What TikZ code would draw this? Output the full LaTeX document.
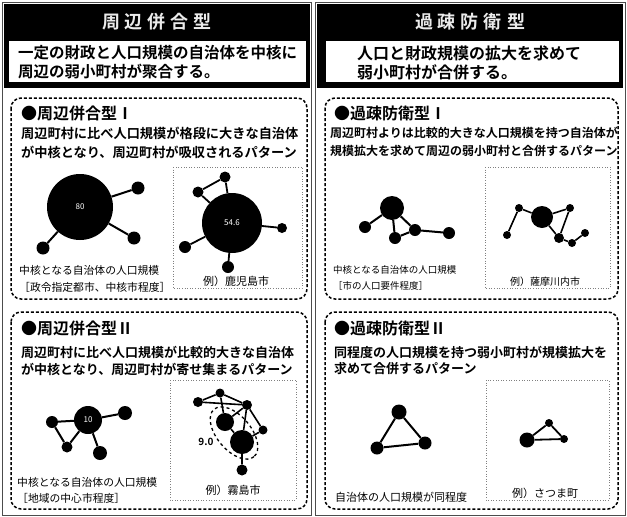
\documentclass[tikz,border=0pt]{standalone}
\usepackage{fontspec}
\newfontfamily\jp{Noto Sans CJK JP}
\newfontfamily\jpb{Noto Sans CJK JP Bold}
\begin{document}
\begin{tikzpicture}[x=1pt,y=-1pt,
  frame/.style={draw=black!70, line width=0.6pt},
  hdr/.style={text=white!92!black, font=\jpb\fontsize{18}{20}\selectfont, inner sep=0},
  sub/.style={anchor=west, inner sep=0, font=\jpb\fontsize{15.5}{17}\selectfont},
  ptitle/.style={anchor=west, inner sep=0, font=\jpb\fontsize{16}{18}\selectfont},
  desc/.style={anchor=west, inner sep=0, font=\jpb\fontsize{13}{15}\selectfont},
  captxt/.style={anchor=west, inner sep=0, font=\jp\fontsize{10.8}{12}\selectfont},
  exl/.style={inner sep=0, font=\jp\fontsize{11}{12}\selectfont},
  panel/.style={draw=black, dash pattern=on 3pt off 2pt, line width=1.5pt, rounded corners=10pt},
  exbox/.style={draw=black!50, dotted, line width=0.6pt},
  dot/.style={circle, fill=black, inner sep=0, minimum size=#1},
  link/.style={draw=black, line width=2pt},
  clab/.style={text=white, font=\jp\fontsize{8}{9}\selectfont}
]
\useasboundingbox (0,0) rectangle (627,517);
\fill[white] (0,0) rectangle (627,517);
% column frames
\draw[frame] (2,2) rectangle (311,515);
\draw[frame] (315,2) rectangle (625,515);
% headers
\fill[black] (4,4) rectangle (310,88);
\fill[white] (9,41) rectangle (306,82);
\fill[black] (317,4) rectangle (623,88);
\fill[white] (326,41) rectangle (619,82);
\node[hdr] (hL) at (157,22) {周\hspace{5pt}辺\hspace{5pt}併\hspace{5pt}合\hspace{5pt}型};
\node[hdr] (hR) at (470,22) {過\hspace{5pt}疎\hspace{5pt}防\hspace{5pt}衛\hspace{5pt}型};
\node[sub] (sL1) at (18,53) {一定の財政と人口規模の自治体を中核に};
\node[sub] (sL2) at (18,72) {周辺の弱小町村が聚合する。};
\node[sub, font=\jpb\fontsize{16}{17}\selectfont] (sR1) at (357,53) {人口と財政規模の拡大を求めて};
\node[sub, font=\jpb\fontsize{16}{17}\selectfont] (sR2) at (357,72) {弱小町村が合併する。};
% panels
\draw[panel] (11,98) rectangle (307,299);
\draw[panel] (11,312) rectangle (307,509);
\draw[panel] (325,98) rectangle (618,299);
\draw[panel] (325,312) rectangle (618,509);
% example boxes
\draw[exbox] (173,167) rectangle (302,288);
\draw[exbox] (170,380) rectangle (296,500);
\draw[exbox] (485,167) rectangle (610,288);
\draw[exbox] (486,380) rectangle (609,500);

% ---- L1
\node[ptitle] (tL1) at (21,113) {●周辺併合型Ⅰ};
\node[desc, font=\jpb\fontsize{13.2}{15}\selectfont] (dL1a) at (21,133) {周辺町村に比べ人口規模が格段に大きな自治体};
\node[desc, font=\jpb\fontsize{13.2}{15}\selectfont] (dL1b) at (21,152) {が中核となり、周辺町村が吸収されるパターン};
\node[dot=66, clab] (a0) at (80,207) {80};
\node[dot=13] (a1) at (138,188) {};
\node[dot=13] (a2) at (43,248) {};
\node[dot=13] (a3) at (134,238) {};
\draw[link] (a0)--(a1) (a0)--(a2) (a0)--(a3);
\node[captxt] (cL1a) at (19,270) {中核となる自治体の人口規模};
\node[captxt] (cL1b) at (19,287) {［政令指定都市、中核市程度］};
\node[dot=60, clab] (b0) at (232,223) {54.6};
\node[dot=11] (b1) at (225,177) {};
\node[dot=11] (b2) at (198,192) {};
\node[dot=10] (b3) at (282,228) {};
\node[dot=12] (b4) at (185,247) {};
\node[dot=12] (b5) at (228,267) {};
\draw[link, line width=1.8pt] (b1)--(b2) (b1)--(b0) (b2)--(b0) (b0)--(b3) (b0)--(b4) (b0)--(b5);
\node[exl] (xL1) at (236,281) {例）鹿児島市};

% ---- R1
\node[ptitle] (tR1) at (334,113) {●過疎防衛型Ⅰ};
\node[desc, font=\jpb\fontsize{12}{14}\selectfont] (dR1a) at (330,133) {周辺町村よりは比較的大きな人口規模を持つ自治体が};
\node[desc, font=\jpb\fontsize{12}{14}\selectfont] (dR1b) at (330,151) {規模拡大を求めて周辺の弱小町村と合併するパターン};
\node[dot=24] (c0) at (392,208) {};
\node[dot=12] (c1) at (365,227) {};
\node[dot=12] (c2) at (395,238) {};
\node[dot=12] (c3) at (415,230) {};
\node[dot=12] (c4) at (449,233) {};
\draw[link] (c0)--(c1) (c0)--(c2) (c0)--(c3) (c2)--(c3) (c3)--(c4);
\node[captxt, font=\jp\fontsize{9.5}{11}\selectfont] (cR1a) at (333,270) {中核となる自治体の人口規模};
\node[captxt, font=\jp\fontsize{9.5}{11}\selectfont] (cR1b) at (333,286) {［市の人口要件程度］};
\node[dot=22] (d0) at (542,217) {};
\node[dot=8] (d1) at (519,208) {};
\node[dot=8] (d2) at (507,235) {};
\node[dot=8] (d3) at (570,208) {};
\node[dot=10] (d4) at (559,238) {};
\node[dot=8] (d5) at (572,243) {};
\node[dot=8] (d6) at (585,233) {};
\draw[link, line width=1.6pt] (d2)--(d1) (d1)--(d0) (d0)--(d3) (d3)--(d4) (d0)--(d4) (d4)--(d5) (d5)--(d6);
\node[exl, font=\jp\fontsize{10}{11}\selectfont] (xR1) at (545,282) {例）薩摩川内市};

% ---- L2
\node[ptitle] (tL2) at (21,328) {●周辺併合型Ⅱ};
\node[desc] (dL2a) at (21,352) {周辺町村に比べ人口規模が比較的大きな自治体};
\node[desc] (dL2b) at (21,369) {が中核となり、周辺町村が寄せ集まるパターン};
\node[dot=28, clab] (e0) at (88,420) {10};
\node[dot=12] (e1) at (52,422) {};
\node[dot=11] (e2) at (67,447) {};
\node[dot=14] (e3) at (100,453) {};
\node[dot=14] (e4) at (125,413) {};
\draw[link] (e1)--(e0) (e1)--(e2) (e2)--(e0) (e0)--(e3) (e0)--(e4);
\node[captxt] (cL2a) at (17,482) {中核となる自治体の人口規模};
\node[captxt] (cL2b) at (17,498) {［地域の中心市程度］};
\node[dot=10] (f1) at (198,402) {};
\node[dot=9] (f2) at (220,393) {};
\node[dot=10] (f3) at (247,405) {};
\node[dot=18] (f4) at (225,422) {};
\node[dot=24] (f5) at (242,442) {};
\node[dot=9] (f6) at (263,430) {};
\node[dot=11] (f7) at (242,470) {};
\draw[link, line width=1.6pt] (f1)--(f2) (f2)--(f3) (f1)--(f3) (f2)--(f4) (f3)--(f4) (f3)--(f5) (f3)--(f6) (f5)--(f6) (f4)--(f5) (f5)--(f7);
\draw[dashed, line width=1.3pt, rotate around={-50:(234,433)}] (234,433) ellipse (31 and 17);
\node[inner sep=0, font=\jpb\fontsize{10}{11}\selectfont] (nine) at (206,442) {9.0};
\node[exl] (xL2) at (233,490) {例）霧島市};

% ---- R2
\node[ptitle] (tR2) at (334,328) {●過疎防衛型Ⅱ};
\node[desc] (dR2a) at (334,352) {同程度の人口規模を持つ弱小町村が規模拡大を};
\node[desc] (dR2b) at (334,369) {求めて合併するパターン};
\node[dot=15] (g1) at (399,412) {};
\node[dot=13] (g2) at (377,448) {};
\node[dot=13] (g3) at (425,443) {};
\draw[link] (g1)--(g2) (g2)--(g3) (g3)--(g1);
\node[captxt, font=\jp\fontsize{11}{12}\selectfont] (cR2) at (335,497) {自治体の人口規模が同程度};
\node[dot=15] (h1) at (527,440) {};
\node[dot=8] (h2) at (549,423) {};
\node[dot=8] (h3) at (564,439) {};
\draw[link, line width=1.8pt] (h1)--(h2) (h2)--(h3) (h3)--(h1);
\node[exl] (xR2) at (545,493) {例）さつま町};
\end{tikzpicture}
\end{document}
